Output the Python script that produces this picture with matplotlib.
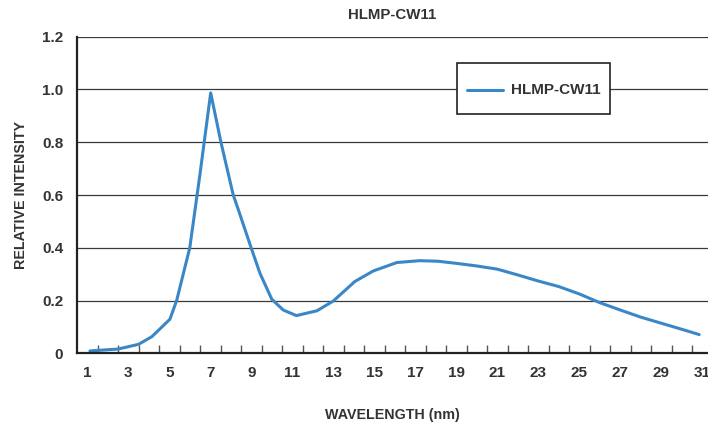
import matplotlib
matplotlib.use("Agg")
import matplotlib.pyplot as plt
from matplotlib.ticker import FixedLocator
from matplotlib.lines import Line2D
from matplotlib.legend_handler import HandlerLine2D

plt.rcParams['font.family'] = ['Liberation Sans Narrow', 'Liberation Sans', 'DejaVu Sans']
plt.rcParams['font.weight'] = 'bold'

# spectrum
wavelength = [1.13, 2.5, 3.5, 4.15, 5.03, 5.36, 6, 6.5, 7.02, 7.52, 8.12, 8.37,
              8.95, 9.42, 10, 10.56, 11.2, 12.2, 13, 14.05, 14.95, 16.1, 17.2,
              18.1, 19, 20, 21, 22, 23, 24, 25, 26, 27, 28, 29, 30, 30.85]
intensity = [0.009, 0.016, 0.034, 0.063, 0.129, 0.20, 0.40, 0.68, 0.987, 0.80,
             0.60, 0.544, 0.41, 0.304, 0.205, 0.164, 0.143, 0.161, 0.198,
             0.272, 0.312, 0.344, 0.351, 0.349, 0.341, 0.331, 0.319, 0.297,
             0.274, 0.253, 0.225, 0.192, 0.164, 0.137, 0.114, 0.091, 0.071]
series_name = "HLMP-CW11"
x_labels = list(range(1, 32, 2))
y_ticks = [0, 0.2, 0.4, 0.6, 0.8, 1.0, 1.2]
y_labels = ["0", "0.2", "0.4", "0.6", "0.8", "1.0", "1.2"]

txt = '#333333'
fs_tick = 11
fs_lab = 10.3

fig = plt.figure(figsize=(7.08, 4.23), dpi=100)
ax = fig.add_axes([0.1088, 0.1648, 0.8912, 0.7484])

for y in y_ticks[1:]:
    ax.axhline(y, color='#3a3a3a', lw=0.9, zorder=1)

ax.plot(wavelength, intensity, color='#3a87c8', lw=2.2, label=series_name,
        solid_joinstyle='round', solid_capstyle='round', zorder=3)

ax.set_xlim(0.5, 31.28)
ax.set_ylim(0, 1.2)
ax.set_xticks(x_labels)
ax.set_xticklabels([str(v) for v in x_labels])
ax.xaxis.set_minor_locator(FixedLocator([v + 0.5 for v in range(1, 31)]))
ax.tick_params(axis='x', which='major', length=0, pad=9, labelsize=fs_tick,
               labelcolor=txt)
ax.tick_params(axis='x', which='minor', direction='in', length=6, width=1,
               color='#555555')
ax.set_yticks(y_ticks)
ax.set_yticklabels(y_labels)
ax.tick_params(axis='y', length=0, pad=10, labelsize=fs_tick, labelcolor=txt)

for s in ['top', 'right']:
    ax.spines[s].set_visible(False)
for s in ['left', 'bottom']:
    ax.spines[s].set_linewidth(1.6)
    ax.spines[s].set_color('#222222')
    ax.spines[s].set_zorder(4)

ax.set_title("HLMP-CW11", fontsize=10.8, color=txt, fontweight='bold', pad=13)
ax.set_xlabel("WAVELENGTH (nm)", fontsize=fs_lab, color=txt, fontweight='bold',
              labelpad=20)
ax.set_ylabel("RELATIVE INTENSITY", fontsize=fs_lab, color=txt, fontweight='bold',
              labelpad=10)


# tall legend box: push the handle line down to the text's middle
def drop_handle(h, orig):
    h.update_from(orig)
    h.set_ydata(h.get_ydata() - 4.6)


leg = ax.legend(loc='center', bbox_to_anchor=(0.7235, 0.835), fontsize=fs_tick,
                frameon=True, fancybox=False, edgecolor='#222222',
                framealpha=1, borderpad=0.65, handlelength=2.4,
                handleheight=2.75, handletextpad=0.5, borderaxespad=0,
                handler_map={Line2D: HandlerLine2D(update_func=drop_handle)})
leg.get_frame().set_linewidth(1.2)
for t in leg.get_texts():
    t.set_color(txt)

fig.savefig("out.png", dpi=100)
